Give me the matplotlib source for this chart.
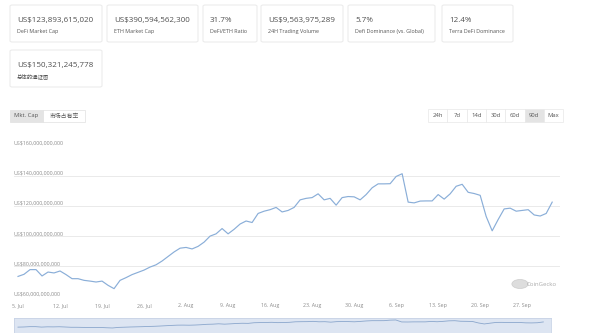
import matplotlib
matplotlib.use("Agg")
import matplotlib.pyplot as plt
import matplotlib.dates as mdates
from matplotlib.patches import FancyBboxPatch, Rectangle, Circle
import pandas as pd

plt.rcParams["font.family"] = ["Open Sans", "Noto Sans CJK SC", "DejaVu Sans"]

W, H = 600, 333

# DeFi market cap, daily, in billions of USD (90d view)
start_date = "2021-07-05"
market_cap_bn = [
    73.3, 74.7, 77.8, 77.8, 73.6, 76.2, 75.6, 76.9, 74.5, 71.8,
    71.8, 70.7, 70.2, 69.6, 70.2, 67.4, 65.2, 70.7, 72.5, 74.5,
    76.0, 77.5, 79.5, 81.0, 83.5, 86.5, 89.5, 92.0, 92.5, 91.5,
    93.2, 96.0, 100.0, 101.5, 105.0, 101.5, 104.5, 108.0, 110.0, 109.0,
    115.0, 116.5, 117.5, 119.0, 116.0, 117.0, 119.0, 124.0, 125.0, 125.5,
    128.0, 124.0, 125.0, 120.5, 125.5, 126.2, 126.0, 124.0, 127.5, 132.0,
    134.6, 134.6, 134.7, 139.5, 141.3, 122.5, 122.0, 123.2, 123.3, 123.3,
    127.5, 124.5, 128.0, 133.0, 134.3, 129.0, 128.2, 127.0, 113.0, 103.5,
    111.0, 118.0, 118.5, 116.5, 117.0, 117.5, 114.0, 113.3, 115.0, 122.5,
]
y_ticks_bn = [60, 80, 100, 120, 140, 160]

stat_values = ["US$123,893,615,020", "US$390,594,562,300", "31.7%",
               "US$9,563,975,289", "5.7%", "12.4%", "US$150,321,245,778"]
stat_labels = ["DeFi Market Cap", "ETH Market Cap", "DeFi/ETH Ratio",
               "24H Trading Volume", "Defi Dominance (vs. Global)",
               "Terra DeFi Dominance", "总体的通证图"]
range_buttons = ["24h", "7d", "14d", "30d", "60d", "90d", "Max"]
active_range = "90d"

dates = pd.date_range(start_date, periods=len(market_cap_bn), freq="D")


def fx(x):
    return x / W


def fy(y):
    return 1 - y / H


fig = plt.figure(figsize=(W / 100, H / 100), dpi=100)
fig.patch.set_facecolor("white")

# stat cards (left, right, top, bottom in pixels)
cards = [(10, 102, 5, 42), (107, 198, 5, 42), (203, 257, 5, 42),
         (261, 343, 5, 42), (348, 435, 5, 42), (442, 513, 5, 42),
         (10, 102, 50, 87)]
for (l, r, t, b), val, lab in zip(cards, stat_values, stat_labels):
    fig.patches.append(FancyBboxPatch(
        (fx(l), fy(b)), fx(r - l), (b - t) / H,
        boxstyle="round,pad=0,rounding_size=0.004", transform=fig.transFigure,
        facecolor="white", edgecolor="#ececec", linewidth=0.8))
    fig.text(fx(l + 7), fy((t + b) / 2 - 3), val, fontsize=5.8, color="#505050",
             va="center", ha="left")
    fig.text(fx(l + 7), fy((t + b) / 2 + 8), lab, fontsize=3.9, color="#555555",
             va="center", ha="left")

# left toggle buttons
fig.patches.append(Rectangle((fx(10), fy(122)), fx(33), 12 / H, transform=fig.transFigure,
                             facecolor="#e4e4e4", edgecolor="#e0e0e0", linewidth=0.5))
fig.patches.append(Rectangle((fx(43), fy(122)), fx(42), 12 / H, transform=fig.transFigure,
                             facecolor="white", edgecolor="#e0e0e0", linewidth=0.5))
fig.text(fx(26.5), fy(116), "Mkt. Cap", fontsize=4.2, color="#555555", ha="center", va="center")
fig.text(fx(64), fy(116), "市场占有率", fontsize=4.2, color="#555555", ha="center", va="center")

# range buttons on the right
bx0, bw = 428, 19.3
for i, name in enumerate(range_buttons):
    fc = "#e4e4e4" if name == active_range else "white"
    fig.patches.append(Rectangle((fx(bx0 + i * bw), fy(122)), fx(bw), 13 / H,
                                 transform=fig.transFigure, facecolor=fc,
                                 edgecolor="#e8e8e8", linewidth=0.5))
    fig.text(fx(bx0 + i * bw + bw / 2), fy(115.5), name, fontsize=4.2,
             color="#555555", ha="center", va="center")

# main chart
ax = fig.add_axes([fx(14), fy(296.5), fx(546), (296.5 - 145.5) / H])
ax.plot(dates, market_cap_bn, color="#8aaed8", linewidth=0.85)
ax.set_ylim(y_ticks_bn[0], y_ticks_bn[-1])
ax.set_xlim(dates[0] - pd.Timedelta(days=0.67), dates[0] + pd.Timedelta(days=90.3))
ax.set_yticks(y_ticks_bn)
ax.set_yticklabels([])
ax.yaxis.grid(True, color="#e6e6e6", linewidth=0.6)
ax.tick_params(axis="y", length=0)
for s in ax.spines.values():
    s.set_visible(False)
for v in y_ticks_bn:
    ax.text(0, v, f"US${v * 1e9:,.0f}", transform=ax.get_yaxis_transform(),
            fontsize=3.8, color="#8a8a8a", ha="left", va="bottom")

ax.xaxis.set_major_locator(mdates.WeekdayLocator(byweekday=mdates.MO))
ax.xaxis.set_major_formatter(mdates.DateFormatter("%-d. %b"))
ax.tick_params(axis="x", length=0, pad=5, labelsize=3.8, labelcolor="#8a8a8a")

# watermark
fig.patches.append(Circle((fx(520), fy(284)), 4.5 / H, transform=fig.transFigure,
                          facecolor="#dddddd", edgecolor="#cccccc", linewidth=0.5))
fig.text(fx(527), fy(284), "CoinGecko", fontsize=4.3, color="#aaaaaa", ha="left", va="center")

# navigator strip
nav = fig.add_axes([fx(14), fy(360), fx(537), 42 / H])
nav.set_facecolor("#dde5f2")
nav.plot(dates, market_cap_bn, color="#8aa6cc", linewidth=0.6)
nav.set_ylim(-239, 160)
nav.set_xlim(ax.get_xlim())
nav.set_xticks([])
nav.set_yticks([])
for s in nav.spines.values():
    s.set_color("#c8d3e6")
    s.set_linewidth(0.6)

fig.savefig("out.png", dpi=100, facecolor="white")
